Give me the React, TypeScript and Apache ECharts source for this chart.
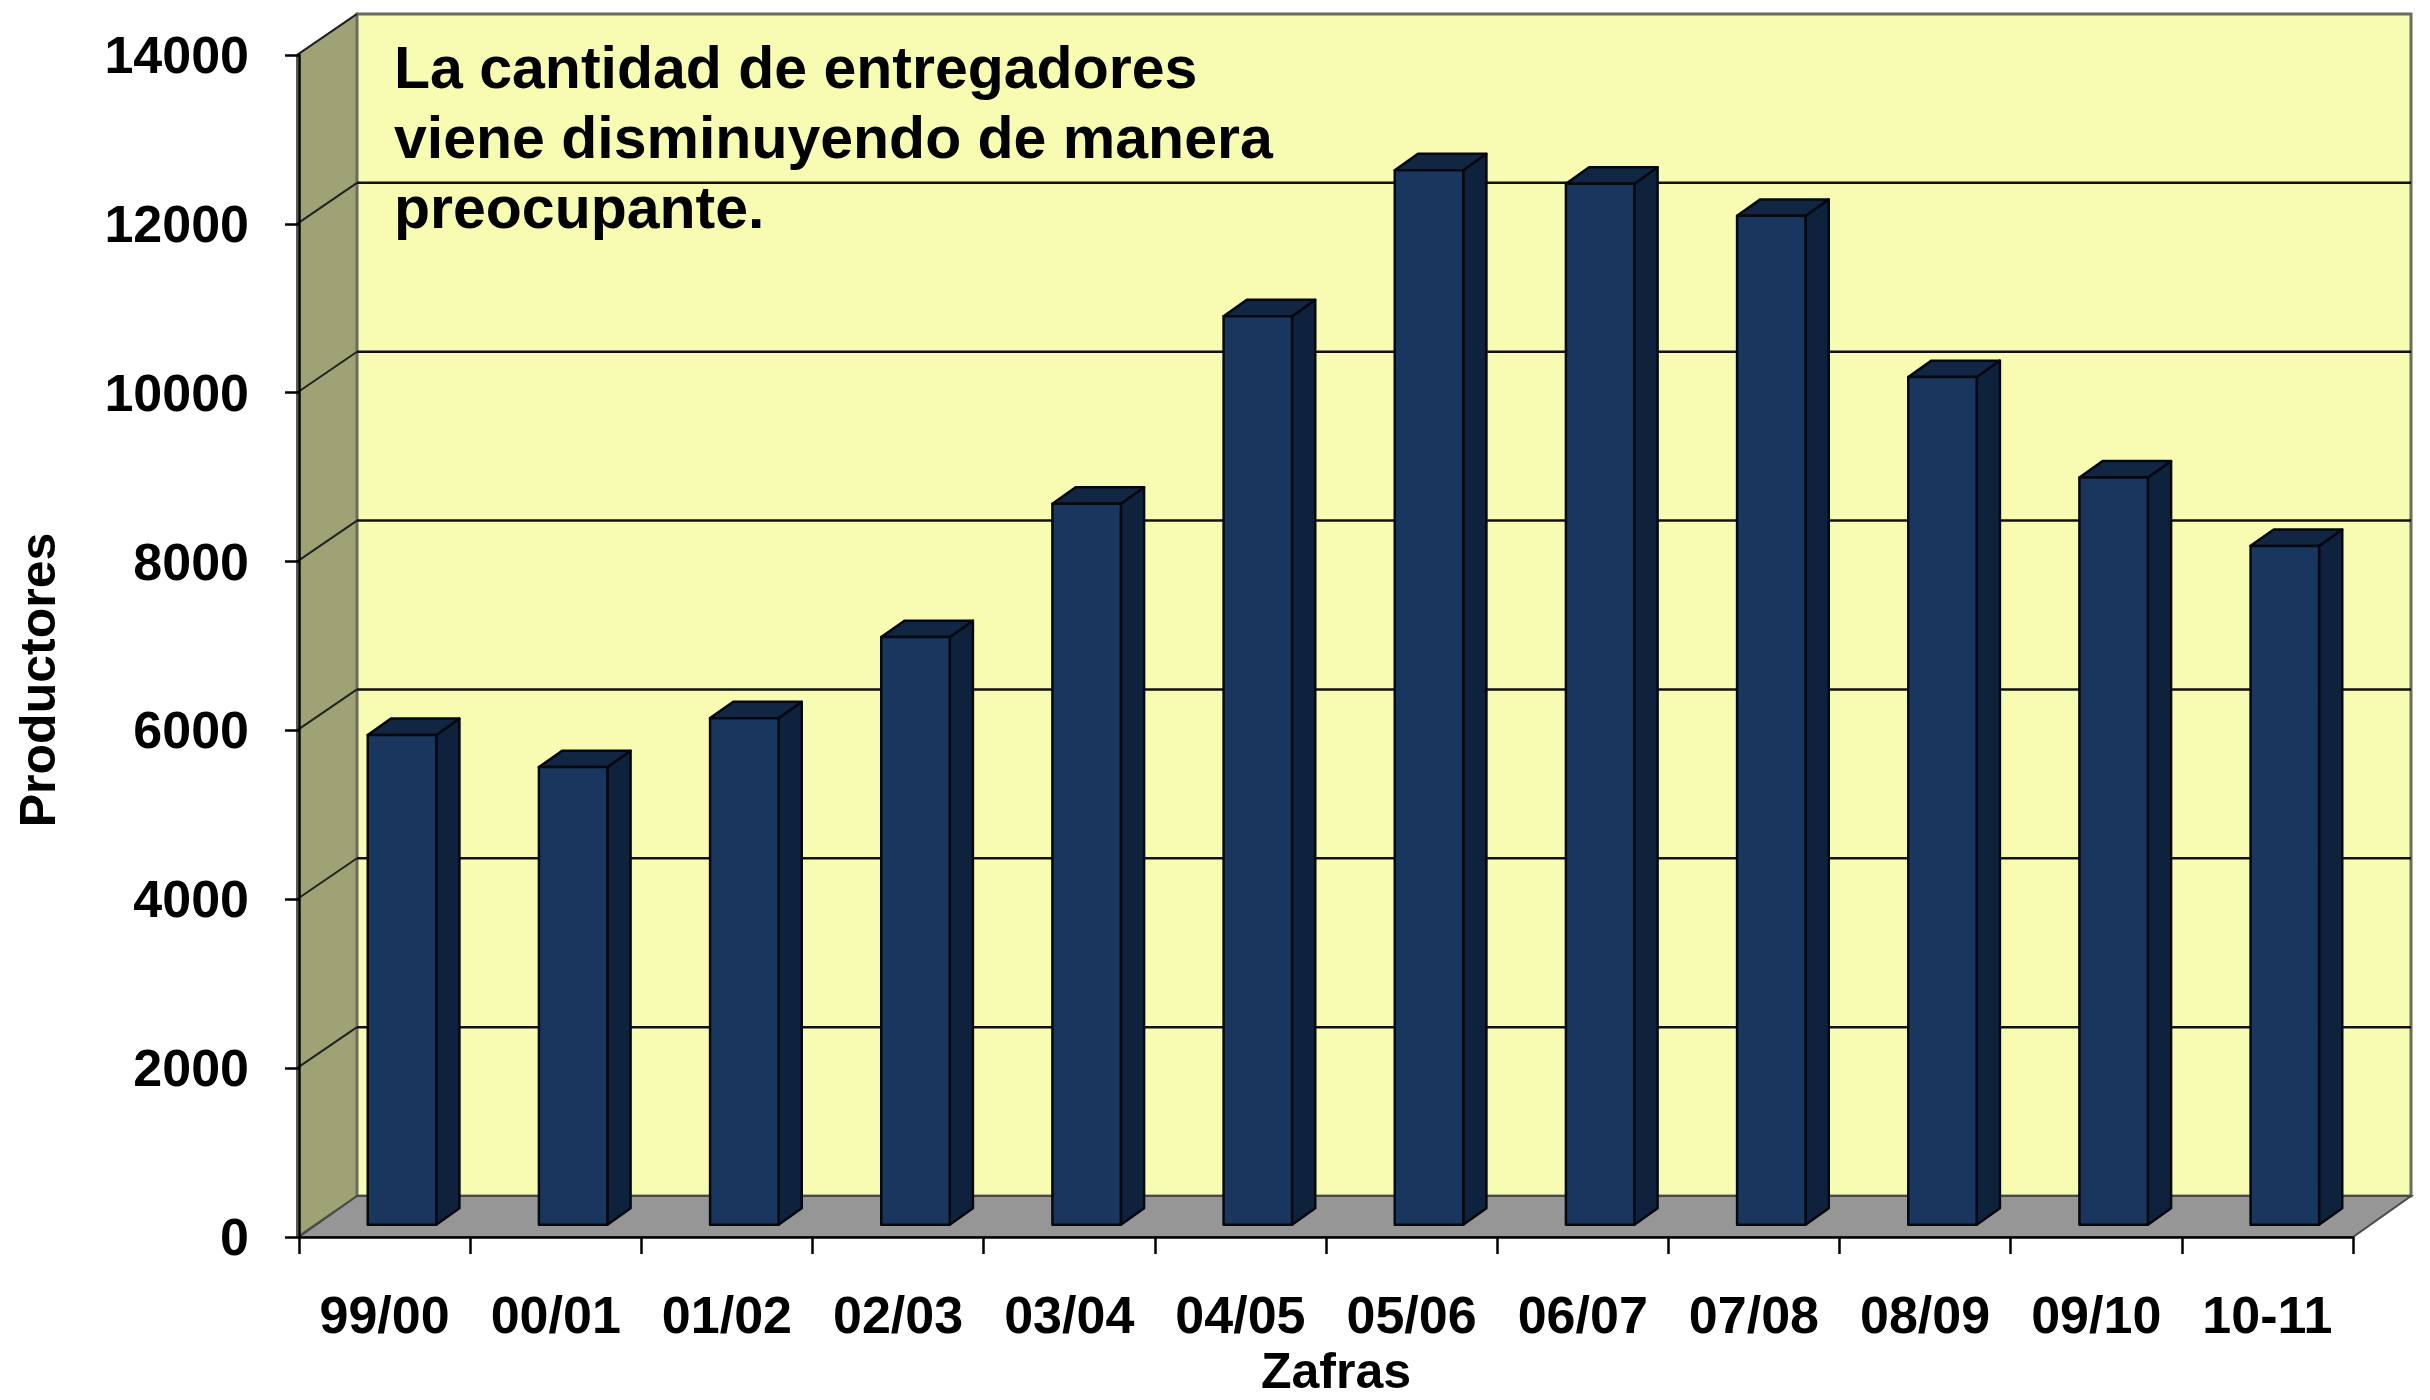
import React, { useEffect, useRef } from "react";
import * as echarts from "echarts";

const categories = ["99/00", "00/01", "01/02", "02/03", "03/04", "04/05", "05/06", "06/07", "07/08", "08/09", "09/10", "10-11"];
const productores = [5800, 5420, 6000, 6960, 8540, 10760, 12490, 12330, 11950, 10040, 8850, 8040];
const yTicks = [0, 2000, 4000, 6000, 8000, 10000, 12000, 14000];
const annotationLines = ["La cantidad de entregadores", "viene disminuyendo de manera", "preocupante."];
const xTitle = "Zafras";
const yTitle = "Productores";

const FONT = '"Liberation Sans", Arial, sans-serif';
const DX = 58;
const DY = -41;
const BAR_FRONT = 0.3;
const BAR_DEPTH = 0.4;
const BAR_WIDTH = 0.4;

export default function App() {
  const ref = useRef<HTMLDivElement>(null);

  useEffect(() => {
    if (!ref.current) return;
    const chart = echarts.init(ref.current, null, { renderer: "svg" });

    const wallsRender = (params: any, api: any) => {
      const cs = params.coordSys;
      const x = cs.x, y = cs.y, w = cs.width, h = cs.height;
      const children: any[] = [];
      // side wall
      children.push({
        type: "polygon",
        shape: { points: [[x - 2, y], [x + DX, y + DY], [x + DX, y + h + DY], [x - 2, y + h]] },
        style: { fill: "#9FA274", stroke: "#5a5a50", lineWidth: 2 },
      });
      // back wall
      children.push({
        type: "rect",
        shape: { x: x + DX, y: y + DY, width: w, height: h },
        style: { fill: "#F8FCB3", stroke: "#6b6b5e", lineWidth: 3 },
      });
      // floor
      children.push({
        type: "polygon",
        shape: { points: [[x, y + h], [x + w, y + h], [x + w + DX, y + h + DY], [x + DX, y + h + DY]] },
        style: { fill: "#969696", stroke: "#4a4a4a", lineWidth: 2 },
      });
      // gridlines on back wall and side wall
      yTicks.forEach((v) => {
        if (v === 0) return;
        const yv = api.coord([0, v])[1];
        if (v !== yTicks[yTicks.length - 1]) {
          children.push({
            type: "line",
            shape: { x1: x + DX, y1: yv + DY, x2: x + w + DX, y2: yv + DY },
            style: { stroke: "#111", lineWidth: 2.5 },
          });
        }
        children.push({
          type: "line",
          shape: { x1: x - 2, y1: yv, x2: x + DX, y2: yv + DY },
          style: { stroke: "#222", lineWidth: 2 },
        });
      });
      return { type: "group", children };
    };

    const barsRender = (params: any, api: any) => {
      const idx = api.value(0);
      const v = api.value(1);
      const base = api.coord([idx, 0]);
      const top = api.coord([idx, v]);
      const cw = api.size([1, 0])[0];
      const bw = cw * BAR_WIDTH;
      const x0 = base[0] - bw / 2 + DX * BAR_FRONT;
      const x1 = x0 + bw;
      const yb = base[1] + DY * BAR_FRONT;
      const yt = top[1] + DY * BAR_FRONT;
      const ddx = DX * BAR_DEPTH;
      const ddy = DY * BAR_DEPTH;
      const edge = { stroke: "#05080f", lineWidth: 2.5, lineJoin: "round" };
      return {
        type: "group",
        children: [
          {
            type: "polygon",
            shape: { points: [[x1, yb], [x1, yt], [x1 + ddx, yt + ddy], [x1 + ddx, yb + ddy]] },
            style: { fill: "#0F223D", ...edge },
          },
          {
            type: "polygon",
            shape: { points: [[x0, yt], [x1, yt], [x1 + ddx, yt + ddy], [x0 + ddx, yt + ddy]] },
            style: { fill: "#112642", ...edge },
          },
          {
            type: "rect",
            shape: { x: x0, y: yt, width: bw, height: yb - yt },
            style: { fill: "#19365E", ...edge },
          },
        ],
      };
    };

    const option: any = {
      animation: false,
      backgroundColor: "#ffffff",
      grid: { left: 299, right: 77, top: 55, bottom: 163, containLabel: false, outerBoundsMode: "none" },
      xAxis: {
        type: "category",
        data: categories,
        boundaryGap: true,
        name: xTitle,
        nameLocation: "middle",
        nameGap: 106,
        nameTextStyle: {
          fontSize: 50,
          lineHeight: 50,
          fontWeight: "bold",
          color: "#000",
          fontFamily: FONT,
          padding: [0, 0, 0, 20],
        },
        axisLine: { show: true, lineStyle: { color: "#000", width: 2.5 } },
        axisTick: { show: true, length: 17, lineStyle: { color: "#000", width: 2.5 } },
        axisLabel: { fontSize: 52, fontWeight: "bold", color: "#000", fontFamily: FONT, margin: 52 },
        splitLine: { show: false },
        z: 5,
      },
      yAxis: {
        type: "value",
        min: 0,
        max: 14000,
        interval: 2000,
        name: yTitle,
        nameLocation: "middle",
        nameRotate: 90,
        nameGap: 236,
        nameTextStyle: { fontSize: 50, fontWeight: "bold", color: "#000", fontFamily: FONT, padding: [0, 68, 0, 0] },
        axisLine: { show: true, lineStyle: { color: "#000", width: 2.5 } },
        axisTick: { show: true, length: 14, lineStyle: { color: "#000", width: 2.5 } },
        axisLabel: {
          fontSize: 52,
          fontWeight: "bold",
          color: "#000",
          fontFamily: FONT,
          margin: 50,
          formatter: (v: number) => String(v),
        },
        splitLine: { show: false },
        z: 5,
      },
      series: [
        {
          type: "custom",
          name: "walls",
          renderItem: wallsRender,
          data: [[0, 0]],
          clip: false,
          silent: true,
          z: 1,
        },
        {
          type: "custom",
          name: yTitle,
          renderItem: barsRender,
          encode: { x: 0, y: 1 },
          data: categories.map((c, i) => [i, productores[i]]),
          clip: false,
          z: 3,
        },
      ],
      graphic: [
        {
          type: "text",
          x: 394,
          y: 33,
          z: 10,
          style: {
            text: annotationLines.join("\n"),
            font: `bold 59px ${FONT}`,
            lineHeight: 70,
            fill: "#000",
            verticalAlign: "top",
            align: "left",
          },
        },
      ],
    };

    chart.setOption(option);
    return () => chart.dispose();
  }, []);

  return <div ref={ref} style={{ position: "fixed", left: 0, top: 0, width: 2430, height: 1400 }} />;
}
